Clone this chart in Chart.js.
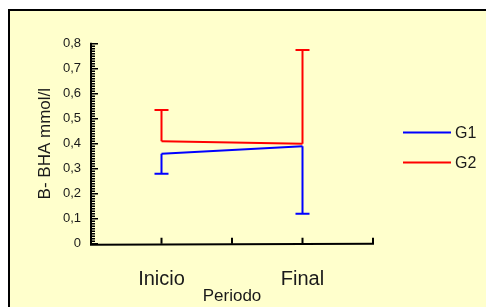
<!DOCTYPE html>
<html><head><meta charset="utf-8">
<style>html,body{margin:0;padding:0;background:#fff;overflow:hidden}
#wrap{position:absolute;left:0;top:0;width:486px;height:307px}
</style>
<script src="https://cdn.jsdelivr.net/npm/chart.js@4/dist/chart.umd.min.js"></script>
</head><body><div id="wrap"><canvas id="c" width="486" height="307"></canvas></div>
<script>
// ---- data ----
const categories = ['Inicio', 'Final'];
const categoryX = [1, 3];
const xTicks = [0, 1, 2, 3, 4];
const yTicks = [0, 0.1, 0.2, 0.3, 0.4, 0.5, 0.6, 0.7, 0.8];
const seriesNames = ['G1', 'G2'];
const g1Mean = [0.36, 0.39];
const g1ErrLow = [0.28, 0.12];
const g2Mean = [0.41, 0.40];
const g2ErrHigh = [0.535, 0.775];

const FONT = 'Liberation Sans, Arial, sans-serif';
const TXT = '#1a1a1a';
const BLUE = '#0000ff', RED = '#ff0000';

const errorBars = [
  {mean: g1Mean, end: g1ErrLow, color: BLUE},
  {mean: g2Mean, end: g2ErrHigh, color: RED}
];

const framePlugin = {
  id: 'frame',
  beforeDraw(chart) {
    const c = chart.ctx;
    c.save();
    c.fillStyle = '#ffffff';
    c.fillRect(0, 0, chart.width, chart.height);
    c.fillStyle = '#ffffcc';
    c.fillRect(8, 10, chart.width, chart.height);
    c.strokeStyle = '#000';
    c.lineWidth = 2;
    c.beginPath();
    c.moveTo(9, chart.height + 5);
    c.lineTo(9, 10);
    c.lineTo(chart.width + 5, 10);
    c.stroke();
    c.restore();
  }
};

const axesPlugin = {
  id: 'axesDraw',
  afterDatasetsDraw(chart) {
    const c = chart.ctx;
    const xs = chart.scales.x, ys = chart.scales.y;
    c.save();
    // error bars
    errorBars.forEach(eb => {
      c.strokeStyle = eb.color;
      c.lineWidth = 2;
      categoryX.forEach((xv, i) => {
        const px = xs.getPixelForValue(xv);
        const y0 = ys.getPixelForValue(eb.mean[i]);
        const y1 = ys.getPixelForValue(eb.end[i]);
        c.beginPath();
        c.moveTo(px, y0); c.lineTo(px, y1);
        c.moveTo(px - 7, y1); c.lineTo(px + 7, y1);
        c.stroke();
      });
    });
    // axes
    const x0 = xs.getPixelForValue(0), x1 = xs.getPixelForValue(4);
    const yb = ys.getPixelForValue(0), yt = ys.getPixelForValue(0.8);
    c.strokeStyle = '#000';
    c.lineWidth = 2;
    c.beginPath();
    c.moveTo(x0, yt - 1); c.lineTo(x0, yb + 1); c.lineTo(x1 + 1, yb);
    c.stroke();
    // y ticks (major + minor)
    c.lineWidth = 1.5;
    c.beginPath();
    for (let k = 0; k <= 80; k++) {
      const py = ys.getPixelForValue(k / 100);
      const len = (k % 10 === 0) ? 7 : 4;
      c.moveTo(x0, py); c.lineTo(x0 + len, py);
    }
    c.stroke();
    // x ticks
    c.lineWidth = 2;
    c.beginPath();
    xTicks.slice(1).forEach(v => {
      const px = xs.getPixelForValue(v);
      c.moveTo(px, yb); c.lineTo(px, yb - 6);
    });
    c.stroke();
    // legend
    const legY = [132.5, 162.5];
    const colors = [BLUE, RED];
    c.font = '16px ' + FONT;
    c.textBaseline = 'middle';
    c.textAlign = 'left';
    seriesNames.forEach((n, i) => {
      c.strokeStyle = colors[i];
      c.lineWidth = 2;
      c.beginPath();
      c.moveTo(403, legY[i]); c.lineTo(451, legY[i]);
      c.stroke();
      c.fillStyle = TXT;
      c.fillText(n, 455, legY[i] + 1);
    });
    c.restore();
  }
};

new Chart(document.getElementById('c'), {
  type: 'line',
  data: {
    datasets: [
      {label: seriesNames[0], data: categoryX.map((x, i) => ({x, y: g1Mean[i]})), borderColor: BLUE, borderWidth: 2, pointRadius: 0, tension: 0, fill: false},
      {label: seriesNames[1], data: categoryX.map((x, i) => ({x, y: g2Mean[i]})), borderColor: RED, borderWidth: 2, pointRadius: 0, tension: 0, fill: false}
    ]
  },
  options: {
    responsive: false,
    animation: false,
    devicePixelRatio: 1,
    layout: {padding: {top: 43.7, right: 113, bottom: 0, left: 0}},
    plugins: {legend: {display: false}, tooltip: {enabled: false}},
    scales: {
      x: {
        type: 'linear', min: 0, max: 4, position: 'bottom',
        afterBuildTicks: s => { s.ticks = xTicks.map(v => ({value: v})); },
        afterFit: s => { s.height = 63.3; },
        grid: {display: false, drawTicks: false},
        border: {display: false},
        ticks: {
          autoSkip: false, maxRotation: 0, padding: 24, color: TXT,
          font: {size: 20, family: FONT},
          callback: v => { const i = categoryX.indexOf(v); return i >= 0 ? categories[i] : ''; }
        },
        title: {display: true, text: 'Periodo', color: TXT, font: {size: 17, family: FONT}, padding: {top: 0, bottom: 0}}
      },
      y: {
        min: 0, max: 0.8,
        afterBuildTicks: s => { s.ticks = yTicks.map(v => ({value: v})); },
        afterFit: s => { s.width = 91; },
        grid: {display: false, drawTicks: false},
        border: {display: false},
        ticks: {
          padding: 10, color: TXT, font: {size: 13, family: FONT},
          callback: v => v === 0 ? '0' : v.toFixed(1).replace('.', ',')
        },
        title: {display: true, text: 'B- BHA mmol/l', color: TXT, font: {size: 17, family: FONT}, padding: {top: 35, bottom: 0}}
      }
    }
  },
  plugins: [framePlugin, axesPlugin]
});
</script>
</body></html>
